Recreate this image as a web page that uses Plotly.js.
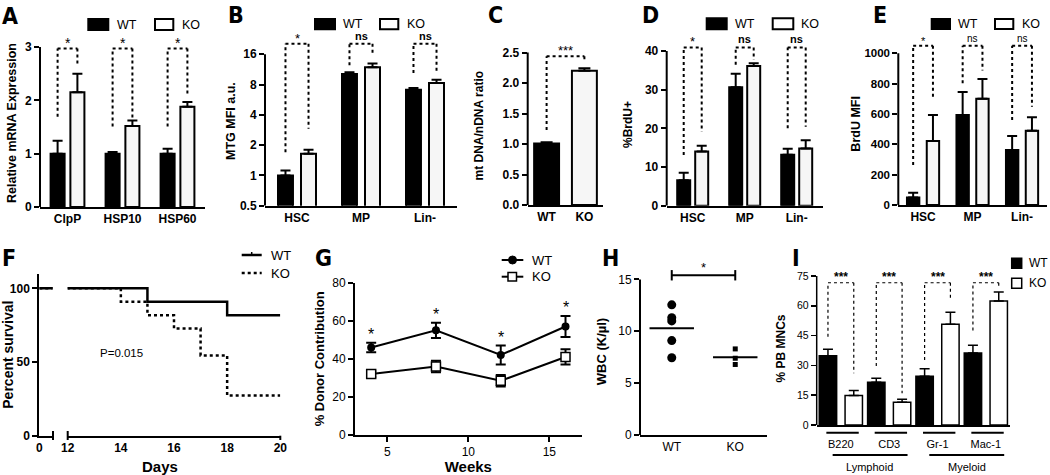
<!DOCTYPE html>
<html>
<head>
<meta charset="utf-8">
<script src="https://cdn.plot.ly/plotly-3.0.1.min.js"></script>
<style>html,body{margin:0;padding:0;background:#fff}#chart{width:1050px;height:475px}</style>
</head>
<body>
<div id="chart"></div>
<script>
// ---------------- DATA ----------------
// A: relative mRNA expression
const aGenes = ['ClpP', 'HSP10', 'HSP60'];
const aWT = [1.0, 1.0, 1.0];
const aWTerr = [0.24, 0.03, 0.09];
const aKO = [2.15, 1.52, 1.88];
const aKOerr = [0.35, 0.10, 0.09];
const aSig = ['*', '*', '*'];
const aBrLeft = [1.69, 1.51, 1.51];
const aBrRight = [2.66, 1.66, 2.07];
const aBrTop = 2.97;
// B: MTG MFI (log2 axis)
const bCells = ['HSC', 'MP', 'Lin-'];
const bWT = [1.0, 10.2, 7.1];
const bWTerr = [0.12, 0.4, 0.3];
const bKO = [1.64, 11.9, 8.27];
const bKOerr = [0.16, 1.07, 0.63];
const bSig = ['*', 'ns', 'ns'];
const bBrLeft = [1.7, 12.4, 10.4];
const bBrRight = [2.9, 15.6, 10.4];
const bBrTop = 20.3;
// C: mtDNA/nDNA ratio
const cGroups = ['WT', 'KO'];
const cRatio = [1.01, 2.2];
const cErr = [0.02, 0.04];
const cSig = '***';
const cBrLeft = 1.23, cBrRight = 2.35, cBrTop = 2.44;
// D: %BrdU+
const dCells = ['HSC', 'MP', 'Lin-'];
const dWT = [6.6, 30.6, 13.2];
const dWTerr = [1.9, 3.5, 1.5];
const dKO = [14.0, 36.1, 14.8];
const dKOerr = [1.5, 0.7, 2.1];
const dSig = ['*', 'ns', 'ns'];
const dBrLeft = [13.1, 36.4, 20.0];
const dBrRight = [19.1, 37.7, 20.4];
const dBrTop = 40.9;
// E: BrdU MFI
const eCells = ['HSC', 'MP', 'Lin-'];
const eWT = [50, 593, 363];
const eWTerr = [30, 152, 92];
const eKO = [422, 701, 490];
const eKOerr = [171, 130, 88];
const eSig = ['*', 'ns', 'ns'];
const eBrLeft = [264, 802, 560];
const eBrRight = [703, 886, 648];
const eBrTop = 1050;
// F: survival
const fDaysWT = [0, 15, 18, 20];
const fSurvWT = [100, 90.9, 81.8, 81.8];
const fDaysKO = [0, 14, 15, 16, 17, 18, 20];
const fSurvKO = [100, 90.9, 81.8, 72.7, 54.5, 27.3, 27.3];
const fPvalue = 'P=0.015';
// G: donor contribution
const gWeeks = [4, 8, 12, 16];
const gWT = [46, 55, 42, 57];
const gWTerr = [2.5, 4, 5, 5.5];
const gKO = [32, 36, 28.5, 41];
const gKOerr = [1.5, 3, 3, 4];
const gSig = ['*', '*', '*', '*'];
// H: WBC
const hGroups = ['WT', 'KO'];
const hWT = [12.55, 11.3, 11.0, 9.1, 7.45];
const hKO = [8.3, 7.4, 6.8];
const hSig = '*';
// I: PB MNCs
const iMarkers = ['B220', 'CD3', 'Gr-1', 'Mac-1'];
const iLineage = ['Lymphoid', 'Lymphoid', 'Myeloid', 'Myeloid'];
const iWT = [34.9, 21.5, 24.5, 36.2];
const iWTerr = [3.2, 2.0, 3.8, 3.9];
const iKO = [14.8, 11.4, 50.7, 62.4];
const iKOerr = [2.5, 1.5, 6.0, 4.5];
const iSig = ['***', '***', '***', '***'];
const iBrLeft = [44.4, 29.7, 32.7, 47.5];
const iBrRight = [26, 16, 63, 68.8];
const iBrTop = 71.6;

// ---------------- HELPERS ----------------
const W = 1050, H = 475;
const FONT = 'Liberation Sans, Arial, Helvetica, sans-serif';
const NARROW = 'Liberation Sans Narrow, DejaVu Sans Condensed, sans-serif';
const BLACK = '#000';
const KOFILL = '#f6f6f6';
const traces = [], shapes = [], annotations = [];
const axId = (n, l) => n === 1 ? l : l + n;
const bold = s => ({family: FONT, size: s, color: BLACK, weight: 'bold'});
const norm = s => ({family: FONT, size: s, color: BLACK});
const fx = p => p / W, fy = p => 1 - p / H;
const dX = (a, b) => [fx(a), fx(b)];
const dY = (t, b) => [fy(b), fy(t)];

function barPanel(n, cats, wt, wtErr, ko, koErr, w, g, fill, lw, cap) {
  const xa = axId(n, 'x'), ya = axId(n, 'y');
  const zero = wt.map(() => 0);
  const base = {type: 'bar', x: cats, xaxis: xa, yaxis: ya, width: w, showlegend: false, hoverinfo: 'skip'};
  traces.push(Object.assign({}, base, {name: 'WT', y: wt, offset: -w - g / 2,
    marker: {color: BLACK, line: {color: BLACK, width: lw}},
    error_y: {type: 'data', symmetric: false, array: wtErr, arrayminus: zero, color: BLACK, thickness: lw, width: cap}}));
  traces.push(Object.assign({}, base, {name: 'KO', y: ko, offset: g / 2,
    marker: {color: fill, line: {color: BLACK, width: lw}},
    error_y: {type: 'data', symmetric: false, array: koErr, arrayminus: zero, color: BLACK, thickness: lw, width: cap}}));
}
function addBracket(xa, ya, xl, xr, yl, yr, ytop, line) {
  shapes.push({type: 'line', xref: xa, yref: ya, x0: xl, x1: xl, y0: yl, y1: ytop, line});
  shapes.push({type: 'line', xref: xa, yref: ya, x0: xl, x1: xr, y0: ytop, y1: ytop, line});
  shapes.push({type: 'line', xref: xa, yref: ya, x0: xr, x1: xr, y0: ytop, y1: yr, line});
}
function sigBrackets(n, left, right, top, labels, w, g, fonts, isLog, line) {
  const xa = axId(n, 'x'), ya = axId(n, 'y');
  const c = (w + g) / 2;
  labels.forEach((lab, i) => {
    addBracket(xa, ya, i - c, i + c, left[i], right[i], top, line);
    const f = lab === 'ns' ? fonts.ns : fonts.star;
    annotations.push({xref: xa, yref: ya, x: i, y: isLog ? Math.log10(top) : top, text: lab,
      showarrow: false, xanchor: 'center', yanchor: 'bottom', yshift: f.shift, font: f.font});
  });
}
function yLine(n, y0, y1, lw) {
  shapes.push({type: 'line', xref: axId(n, 'x') + ' domain', x0: 0, x1: 0, yref: axId(n, 'y'), y0, y1,
    line: {color: BLACK, width: lw}});
}
function rectP(x0, x1, y0, y1, fill, lw) {
  shapes.push({type: 'rect', xref: 'paper', yref: 'paper', x0: fx(x0), x1: fx(x1), y0: fy(y1), y1: fy(y0),
    fillcolor: fill, line: {color: BLACK, width: lw}});
}
function lineP(x0, y0, x1, y1, lw, dash) {
  shapes.push({type: 'line', xref: 'paper', yref: 'paper', x0: fx(x0), x1: fx(x1), y0: fy(y0), y1: fy(y1),
    line: {color: BLACK, width: lw, dash: dash || 'solid'}});
}
function textP(x, y, text, font, xanchor) {
  annotations.push({xref: 'paper', yref: 'paper', x: fx(x), y: fy(y), text, showarrow: false,
    xanchor: xanchor || 'left', yanchor: 'middle', font});
}
function barLegend(wx0, wx1, kx0, kx1, y0, y1, twx, tkx, size) {
  rectP(wx0, wx1, y0, y1, BLACK, 2);
  rectP(kx0, kx1, y0, y1, '#fff', 2);
  textP(twx, (y0 + y1) / 2, 'WT', norm(size));
  textP(tkx, (y0 + y1) / 2, 'KO', norm(size));
}

const starFont = (s, sh) => ({font: norm(s), shift: sh});
const nsFont = (s, sh) => ({font: bold(s), shift: sh});
const DOT2 = {color: BLACK, width: 2, dash: 'dot'};

// ---------------- PANELS ----------------
// A
barPanel(1, aGenes, aWT, aWTerr, aKO, aKOerr, 0.255, 0.105, KOFILL, 2, 5);
sigBrackets(1, aBrLeft, aBrRight, aBrTop, aSig, 0.255, 0.105, {star: starFont(14, -4), ns: nsFont(11, 0)}, false, DOT2);
yLine(1, 0, 3, 2);
barLegend(88.3, 108.3, 155, 173.3, 19, 30, 115, 180, 12.5);

// B
barPanel(2, bCells, bWT, bWTerr, bKO, bKOerr, 0.234, 0.126, KOFILL, 2, 5);
sigBrackets(2, bBrLeft, bBrRight, bBrTop, bSig, 0.234, 0.126, {star: starFont(13, -4), ns: nsFont(11, 0)}, true, DOT2);
yLine(2, 0.5, 16, 2);
barLegend(315, 335, 380, 398.3, 19, 29.3, 341, 405, 12.5);

// C
traces.push({type: 'bar', x: cGroups, y: cRatio, xaxis: 'x3', yaxis: 'y3', width: 0.66, offset: -0.33,
  marker: {color: [BLACK, KOFILL], line: {color: BLACK, width: 2}},
  error_y: {type: 'data', symmetric: false, array: cErr, arrayminus: cErr.map(() => 0), color: BLACK, thickness: 2, width: 6},
  showlegend: false, hoverinfo: 'skip'});
addBracket('x3', 'y3', 0, 1, cBrLeft, cBrRight, cBrTop, DOT2);
annotations.push({xref: 'x3', yref: 'y3', x: 0.5, y: cBrTop, text: cSig, showarrow: false, yanchor: 'bottom', yshift: -4, font: norm(13)});
yLine(3, 0, 2.5, 2);

// D
barPanel(4, dCells, dWT, dWTerr, dKO, dKOerr, 0.25, 0.096, KOFILL, 2, 5);
sigBrackets(4, dBrLeft, dBrRight, dBrTop, dSig, 0.25, 0.096, {star: starFont(13, -4), ns: nsFont(11, 0)}, false, DOT2);
yLine(4, 0, 40, 2);
barLegend(706.7, 726.7, 772.7, 793.3, 18.3, 29.3, 733, 799, 12.5);

// E
barPanel(5, eCells, eWT, eWTerr, eKO, eKOerr, 0.25, 0.15, KOFILL, 2, 5);
sigBrackets(5, eBrLeft, eBrRight, eBrTop, eSig, 0.25, 0.15, {star: starFont(11, -3), ns: starFont(10, 0)}, false, DOT2);
yLine(5, 0, 1000, 2);
barLegend(931.7, 950, 995, 1013.3, 19, 29, 956, 1020, 12.5);

// F (broken x axis: x6 = day 0 segment, x7 = days 12-20)
['x6', 'x7'].forEach(xa => {
  traces.push({type: 'scatter', mode: 'lines', x: fDaysWT, y: fSurvWT, xaxis: xa, yaxis: 'y6', name: 'WT',
    line: {color: BLACK, width: 2.5, shape: 'hv'}, showlegend: false, hoverinfo: 'skip'});
  traces.push({type: 'scatter', mode: 'lines', x: fDaysKO, y: fSurvKO, xaxis: xa, yaxis: 'y6', name: 'KO',
    line: {color: BLACK, width: 2.5, shape: 'hv', dash: 'dot'}, showlegend: false, hoverinfo: 'skip'});
});
lineP(53, 431, 53, 440, 2); // segment end caps
lineP(67.7, 431, 67.7, 440, 2);
lineP(280.3, 435.7, 280.3, 440, 2);
textP(121.7, 353.3, fPvalue, norm(11.5), 'center');
textP(160, 466.7, 'Days', bold(15), 'center');
lineP(241.7, 255, 261.7, 255, 2.5);
lineP(251.7, 252, 251.7, 255, 1.5);
lineP(241.7, 273, 261.7, 273, 2.5, 'dot');
textP(269, 255, 'WT', norm(13));
textP(269, 273, 'KO', norm(13));

// G
traces.push({type: 'scatter', mode: 'lines+markers', x: gWeeks, y: gWT, xaxis: 'x8', yaxis: 'y8', name: 'WT',
  line: {color: BLACK, width: 2}, marker: {symbol: 'circle', size: 8, color: BLACK},
  error_y: {type: 'data', array: gWTerr, color: BLACK, thickness: 2, width: 5}, showlegend: false, hoverinfo: 'skip'});
traces.push({type: 'scatter', mode: 'lines+markers', x: gWeeks, y: gKO, xaxis: 'x8', yaxis: 'y8', name: 'KO',
  line: {color: BLACK, width: 2}, marker: {symbol: 'square', size: 9, color: '#fff', line: {color: BLACK, width: 1.5}},
  error_y: {type: 'data', array: gKOerr, color: BLACK, thickness: 2, width: 5}, showlegend: false, hoverinfo: 'skip'});
gSig.forEach((s, i) => annotations.push({xref: 'x8', yref: 'y8', x: gWeeks[i], y: gWT[i] + gWTerr[i], text: s,
  showarrow: false, yanchor: 'bottom', yshift: -2, font: norm(16)}));
lineP(501.7, 260, 523.3, 260, 2);
shapes.push({type: 'circle', xref: 'paper', yref: 'paper', x0: fx(508.5), x1: fx(516.5), y0: fy(264), y1: fy(256), fillcolor: BLACK, line: {color: BLACK, width: 1}});
lineP(501.7, 276.7, 523.3, 276.7, 2);
rectP(508, 516.5, 272.5, 281, '#fff', 1.5);
textP(530, 260, 'WT', norm(13));
textP(530, 276.7, 'KO', norm(13));

// H
const mean = a => a.reduce((s, v) => s + v, 0) / a.length;
traces.push({type: 'scatter', mode: 'markers', x: hWT.map(() => 0), y: hWT, xaxis: 'x9', yaxis: 'y9', name: 'WT',
  marker: {symbol: 'circle', size: 9, color: BLACK}, showlegend: false, hoverinfo: 'skip'});
traces.push({type: 'scatter', mode: 'markers', x: hKO.map(() => 1), y: hKO, xaxis: 'x9', yaxis: 'y9', name: 'KO',
  marker: {symbol: 'square', size: 5, color: BLACK}, showlegend: false, hoverinfo: 'skip'});
[[hWT, 0], [hKO, 1]].forEach(([arr, x]) => traces.push({type: 'scatter', mode: 'lines', x: [x - 0.35, x + 0.35],
  y: [mean(arr), mean(arr)], xaxis: 'x9', yaxis: 'y9', line: {color: BLACK, width: 2}, showlegend: false, hoverinfo: 'skip'}));
shapes.push({type: 'line', xref: 'x9', yref: 'y9', x0: 0, x1: 1, y0: 15.4, y1: 15.4, line: {color: BLACK, width: 2}});
shapes.push({type: 'line', xref: 'x9', yref: 'y9', x0: 0, x1: 0, y0: 14.9, y1: 15.9, line: {color: BLACK, width: 2}});
shapes.push({type: 'line', xref: 'x9', yref: 'y9', x0: 1, x1: 1, y0: 14.9, y1: 15.9, line: {color: BLACK, width: 2}});
annotations.push({xref: 'x9', yref: 'y9', x: 0.5, y: 15.4, text: hSig, showarrow: false, yanchor: 'bottom', yshift: -2, font: norm(13)});
yLine(9, 0, 15, 2);

// I
barPanel(10, iMarkers, iWT, iWTerr, iKO, iKOerr, 0.36, 0.174, '#fff', 1.5, 5);
sigBrackets(10, iBrLeft, iBrRight, iBrTop, iSig, 0.36, 0.174, {star: nsFont(12, -3), ns: nsFont(12, -3)}, false,
  {color: BLACK, width: 1.2, dash: 'dot'});
yLine(10, 0, 75, 1.5);
iMarkers.forEach((m, i) => shapes.push({type: 'line', xref: 'x10', yref: 'paper', x0: i - 0.3, x1: i + 0.37,
  y0: fy(432.7), y1: fy(432.7), line: {color: BLACK, width: 2}}));
[...new Set(iLineage)].forEach(lin => {
  const idx = iLineage.map((l, i) => l === lin ? i : -1).filter(i => i >= 0);
  const a = Math.min(...idx), b = Math.max(...idx);
  shapes.push({type: 'line', xref: 'x10', yref: 'paper', x0: a - 0.17, x1: b + 0.38, y0: fy(455), y1: fy(455),
    line: {color: BLACK, width: 2}});
  annotations.push({xref: 'x10', yref: 'paper', x: (a + b) / 2 + 0.1, y: fy(466.7), text: lin, showarrow: false,
    xanchor: 'center', yanchor: 'middle', font: norm(11)});
});
rectP(1011.7, 1021.7, 258.3, 268.3, BLACK, 1.5);
rectP(1011.7, 1021.7, 278.3, 288.3, '#fff', 1.5);
textP(1027, 263.3, 'WT', norm(12));
textP(1027, 283.3, 'KO', norm(12));

// panel letters
[['A', 0, 15.5], ['B', 226, 15], ['C', 486, 15], ['D', 639.5, 15], ['E', 871, 15],
 ['F', 0, 257.5], ['G', 313, 257.5], ['H', 600, 257.5], ['I', 790, 258]].forEach(([t, x, y]) =>
  textP(x, y, t, {family: NARROW, size: 23, color: BLACK, weight: 'bold'}));

// ---------------- AXES ----------------
const X = (dom, range, extra) => Object.assign({domain: dX(...dom), range, showline: true, linewidth: 2, linecolor: BLACK,
  ticks: '', showgrid: false, zeroline: false, tickfont: bold(12), fixedrange: true}, extra);
const Y = (dom, range, tickvals, extra) => Object.assign({domain: dY(...dom), range, tickvals, showline: false,
  ticks: 'outside', ticklen: 5, tickwidth: 2, tickcolor: BLACK, showgrid: false, zeroline: false,
  tickfont: bold(12), fixedrange: true}, extra);

const layout = {
  width: W, height: H, margin: {l: 0, r: 0, t: 0, b: 0}, paper_bgcolor: '#fff', plot_bgcolor: 'rgba(0,0,0,0)',
  barmode: 'overlay', showlegend: false, font: {family: FONT, color: BLACK}, shapes, annotations,
  xaxis: X([40, 205], [-0.5, 2.5], {type: 'category', anchor: 'y'}),
  yaxis: Y([39, 207], [0, 3.15], [0, 1, 2, 3], {anchor: 'x', title: {text: 'Relative mRNA Expression', font: bold(12.5), standoff: 5}}),
  xaxis2: X([265, 457], [-0.5, 2.5], {type: 'category', anchor: 'y2'}),
  yaxis2: Y([36.5, 205.7], [Math.log10(0.5), Math.log10(24)], [0.5, 1, 2, 4, 8, 16], {type: 'log', anchor: 'x2',
    ticktext: ['0.5', '1', '2', '4', '8', '16'], title: {text: 'MTG MFI a.u.', font: bold(12.5), standoff: 1}}),
  xaxis3: X([527.7, 603.3], [-0.5, 1.5], {type: 'category', anchor: 'y3'}),
  yaxis3: Y([46.4, 205], [0, 2.6], [0, 0.5, 1, 1.5, 2, 2.5], {anchor: 'x3', tickformat: '.1f',
    title: {text: 'mt DNA/nDNA ratio', font: bold(12), standoff: 16}}),
  xaxis4: X([666.7, 822.7], [-0.5, 2.5], {type: 'category', anchor: 'y4'}),
  yaxis4: Y([43.2, 205.7], [0, 42], [0, 10, 20, 30, 40], {anchor: 'x4', title: {text: '%BrdU+', font: bold(12), standoff: 9}}),
  xaxis5: X([898.3, 1046.8], [-0.5, 2.5], {type: 'category', anchor: 'y5'}),
  yaxis5: Y([42.7, 205], [0, 1070], [0, 200, 400, 600, 800, 1000], {anchor: 'x5', tickfont: bold(11.5),
    title: {text: 'BrdU MFI', font: bold(12.5), standoff: 1}}),
  xaxis6: X([39.3, 52.6], [0, 0.5], {anchor: 'y6', tickvals: [0]}),
  xaxis7: X([67.7, 280.3], [12, 20], {anchor: 'y6', tickvals: [12, 14, 16, 18, 20]}),
  yaxis6: Y([273.6, 435.7], [0, 110], [0, 50, 100], {anchor: 'x6', showline: true, linewidth: 2, linecolor: BLACK,
    title: {text: 'Percent survival', font: bold(14), standoff: 1}}),
  xaxis8: X([355, 581.7], [3, 17], {anchor: 'y8', tickvals: [5, 10, 15], ticks: 'outside', ticklen: 5, tickwidth: 2,
    tickcolor: BLACK, tickfont: norm(12), title: {text: 'Weeks', font: bold(15), standoff: 4}}),
  yaxis8: Y([282.7, 435], [0, 80], [0, 20, 40, 60, 80], {anchor: 'x8', showline: true, linewidth: 2, linecolor: BLACK,
    tickfont: norm(12), title: {text: '% Donor Contribution', font: bold(13), standoff: 5}}),
  xaxis9: X([640, 767], [-0.5, 1.5], {anchor: 'y9', tickvals: [0, 1], ticktext: hGroups, tickfont: norm(12)}),
  yaxis9: Y([268, 435], [0, 16.1], [0, 5, 10, 15], {anchor: 'x9', tickfont: norm(12),
    title: {text: 'WBC (K/µl)', font: bold(13), standoff: 8}}),
  xaxis10: X([816.7, 1010], [-0.5, 3.5], {type: 'category', anchor: 'y10', linewidth: 1.5, tickfont: norm(11), ticklabelstandoff: 8}),
  yaxis10: Y([272, 425], [0, 77], [0, 15, 30, 45, 60, 75], {anchor: 'x10', tickwidth: 1.5, tickfont: norm(10.5),
    title: {text: '% PB MNCs', font: bold(12), standoff: 8}})
};

Plotly.newPlot('chart', traces, layout, {staticPlot: true, displayModeBar: false});
</script>
</body>
</html>
